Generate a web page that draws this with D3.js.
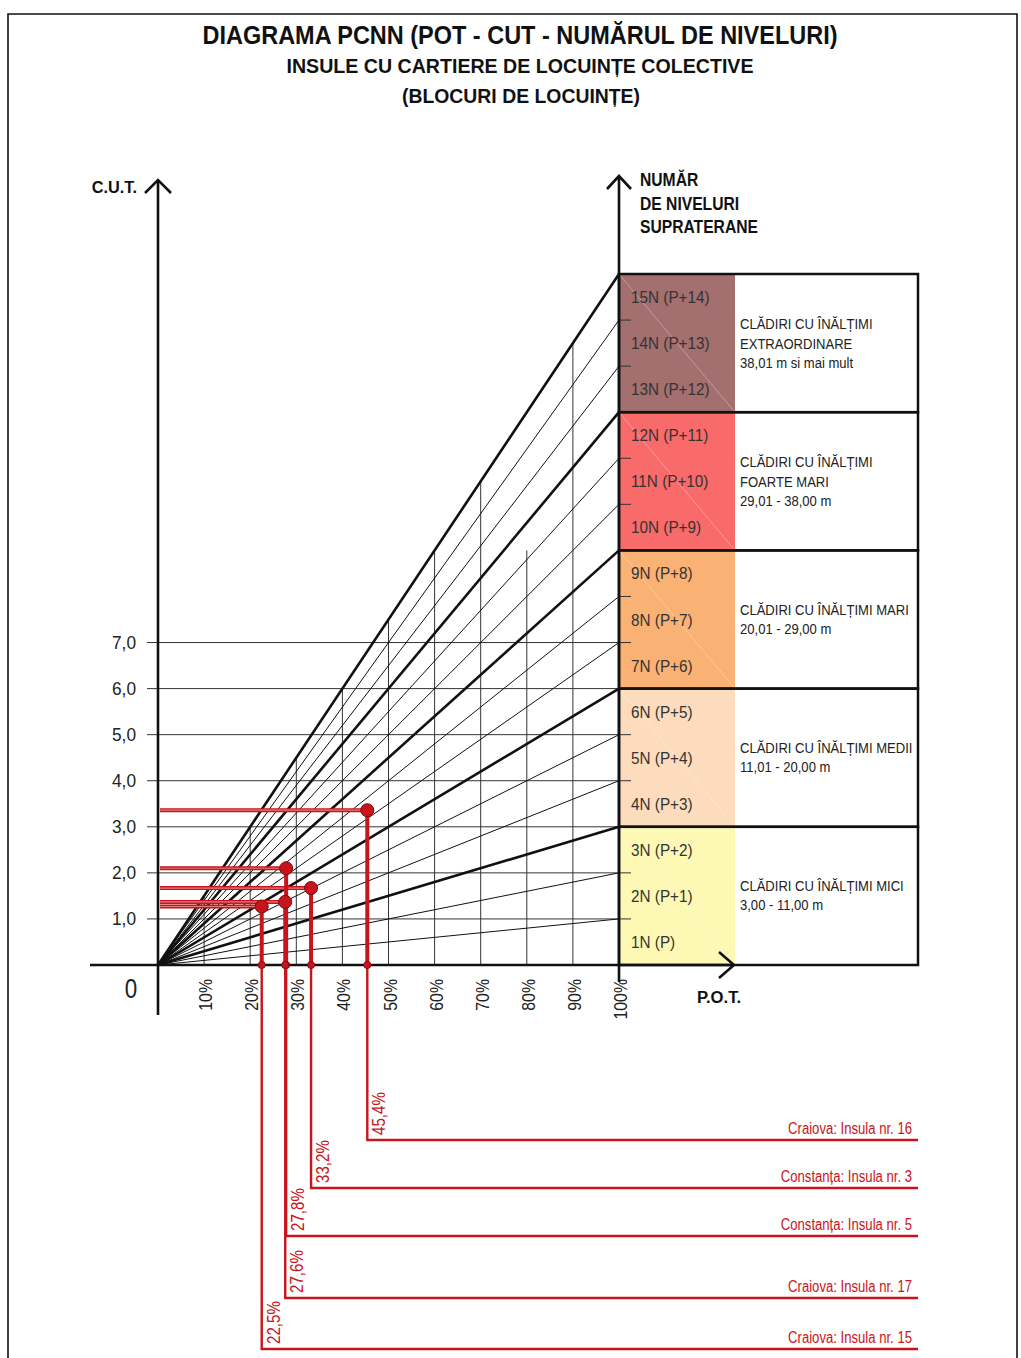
<!DOCTYPE html>
<html>
<head>
<meta charset="utf-8">
<script src="https://cdn.jsdelivr.net/npm/d3@7"></script>
<style>
  html, body { margin: 0; padding: 0; background: #fff; }
  svg { display: block; }
  text { font-family: "Liberation Sans Narrow", "Arial Narrow", "Liberation Sans", Arial, sans-serif; }
</style>
</head>
<body>
<svg id="chart" width="1021" height="1358"></svg>
<script>
// ---- data ----
const potTicks = [10, 20, 30, 40, 50, 60, 70, 80, 90, 100];
const potTickLabels = ["10%", "20%", "30%", "40%", "50%", "60%", "70%", "80%", "90%", "100%"];
// height (in C.U.T.) reached by each vertical P.O.T. guide
const potGuideTop = [1.5, 3, 4.5, 6, 7.5, 9, 10.5, 9, 13.5, 15];
const cutTicks = [1, 2, 3, 4, 5, 6, 7];
const cutTickLabels = ["1,0", "2,0", "3,0", "4,0", "5,0", "6,0", "7,0"];
const levels = [1, 2, 3, 4, 5, 6, 7, 8, 9, 10, 11, 12, 13, 14, 15];
const levelLabels = ["1N (P)", "2N (P+1)", "3N (P+2)", "4N (P+3)", "5N (P+4)", "6N (P+5)",
  "7N (P+6)", "8N (P+7)", "9N (P+8)", "10N (P+9)", "11N (P+10)", "12N (P+11)",
  "13N (P+12)", "14N (P+13)", "15N (P+14)"];
const zoneFrom = [0, 3, 6, 9, 12];
const zoneTo = [3, 6, 9, 12, 15];
const zoneColors = ["#fdf9b4", "#fcdcbc", "#f9b274", "#f96b6b", "#a46f6f"];
const zoneText = [
  ["CLĂDIRI CU ÎNĂLȚIMI MICI", "3,00 - 11,00 m"],
  ["CLĂDIRI CU ÎNĂLȚIMI MEDII", "11,01 - 20,00 m"],
  ["CLĂDIRI CU ÎNĂLȚIMI MARI", "20,01 - 29,00 m"],
  ["CLĂDIRI CU ÎNĂLȚIMI", "FOARTE MARI", "29,01 - 38,00 m"],
  ["CLĂDIRI CU ÎNĂLȚIMI", "EXTRAORDINARE", "38,01 m si mai mult"]
];
const islands = ["Craiova: Insula nr. 16", "Constanța: Insula nr. 3", "Constanța: Insula nr. 5",
  "Craiova: Insula nr. 17", "Craiova: Insula nr. 15"];
const islandPot = [45.4, 33.2, 27.8, 27.6, 22.5];
const islandCut = [3.36, 1.67, 2.10, 1.37, 1.27];
const islandPotLabels = ["45,4%", "33,2%", "27,8%", "27,6%", "22,5%"];

// ---- layout ----
const svg = d3.select("#chart");
const x = d3.scaleLinear().domain([0, 100]).range([158, 619]);
const y = d3.scaleLinear().domain([0, 15]).range([965, 274]);
const boxRight = 918, bandRight = 735;
const leaderY = [1140, 1188, 1236, 1298, 1349];
const red = "#c8141c";
const ink = "#111";

// condensed text: drawn at the anchor point and squeezed horizontally
function label(parent, px, py, str, o) {
  const t = parent.append("text")
    .attr("transform", `translate(${px},${py})${o.rotate ? ` rotate(${o.rotate})` : ""} scale(${o.sx || 1},1)`)
    .attr("font-size", o.size)
    .attr("fill", o.fill || "#222")
    .attr("text-anchor", o.anchor || "start")
    .text(str);
  if (o.bold) t.attr("font-weight", "bold");
  return t;
}

// page frame
svg.append("path")
  .attr("d", "M8,1358 V14 H1017 V1358")
  .attr("fill", "none").attr("stroke", ink).attr("stroke-width", 1.6);

// titles
const titles = svg.append("g").attr("text-anchor", "middle").attr("font-weight", "bold").attr("fill", ink);
titles.append("text").attr("x", 520).attr("y", 44).attr("font-size", 25)
  .attr("textLength", 635).attr("lengthAdjust", "spacingAndGlyphs")
  .text("DIAGRAMA PCNN (POT - CUT - NUMĂRUL DE NIVELURI)");
titles.append("text").attr("x", 520).attr("y", 73).attr("font-size", 20)
  .attr("textLength", 467).attr("lengthAdjust", "spacingAndGlyphs")
  .text("INSULE CU CARTIERE DE LOCUINȚE COLECTIVE");
titles.append("text").attr("x", 521).attr("y", 103).attr("font-size", 20)
  .attr("textLength", 238).attr("lengthAdjust", "spacingAndGlyphs")
  .text("(BLOCURI DE LOCUINȚE)");

// coloured level bands and the zone frames
const zones = svg.append("g");
zoneFrom.forEach((f, i) => {
  zones.append("rect")
    .attr("x", x(100)).attr("y", y(zoneTo[i]))
    .attr("width", bandRight - x(100)).attr("height", y(f) - y(zoneTo[i]))
    .attr("fill", zoneColors[i]);
  zones.append("line")
    .attr("x1", x(100)).attr("y1", y(zoneTo[i]))
    .attr("x2", bandRight).attr("y2", y(f))
    .attr("stroke", "#fff").attr("stroke-opacity", 0.3).attr("stroke-width", 1);
});
const frames = svg.append("g");
zoneFrom.forEach((f, i) => {
  frames.append("rect")
    .attr("x", x(100)).attr("y", y(zoneTo[i]))
    .attr("width", boxRight - x(100)).attr("height", y(f) - y(zoneTo[i]))
    .attr("fill", "none").attr("stroke", ink).attr("stroke-width", 2.5);
  const lines = zoneText[i];
  const mid = (y(f) + y(zoneTo[i])) / 2;
  const first = lines.length === 3 ? mid - 14 : mid - 5;
  lines.forEach((s, k) => {
    label(frames, 740, first + k * 19.5, s, { size: 15, sx: 0.87, fill: "#222" });
  });
});

// level labels and level ticks on the right axis
levels.forEach((n, i) => {
  label(svg, 631, (y(n) + y(n - 1)) / 2 + 6, levelLabels[i], { size: 17, sx: 0.9, fill: "#333" });
  if (n % 3 !== 0) {
    svg.append("line")
      .attr("x1", x(100)).attr("x2", x(100) + 12)
      .attr("y1", y(n)).attr("y2", y(n))
      .attr("stroke", "#333").attr("stroke-width", 1);
  }
});

// horizontal C.U.T. guides
const grid = svg.append("g").attr("stroke", "#333").attr("stroke-width", 1);
cutTicks.forEach(c => {
  grid.append("line").attr("x1", 147).attr("x2", x(100)).attr("y1", y(c)).attr("y2", y(c));
});
// vertical P.O.T. guides
potTicks.slice(0, 9).forEach((p, i) => {
  grid.append("line").attr("x1", x(p)).attr("x2", x(p)).attr("y1", y(0)).attr("y2", y(potGuideTop[i]));
});

// rays: C.U.T. = P.O.T. x number of levels
levels.forEach(n => {
  svg.append("line")
    .attr("x1", x(0)).attr("y1", y(0))
    .attr("x2", x(100)).attr("y2", y(n))
    .attr("stroke", ink)
    .attr("stroke-width", n % 3 === 0 ? 2.6 : 1);
});

// axes
const axes = svg.append("g").attr("stroke", ink).attr("fill", "none").attr("stroke-width", 2.6);
axes.append("line").attr("x1", x(0)).attr("x2", x(0)).attr("y1", 181).attr("y2", 1015);
axes.append("path").attr("d", `M${x(0) - 13},193 L${x(0)},180 L${x(0) + 13},193`);
axes.append("line").attr("x1", x(100)).attr("x2", x(100)).attr("y1", 176).attr("y2", 982);
axes.append("path").attr("d", `M${x(100) - 12},189 L${x(100)},176 L${x(100) + 12},189`);
axes.append("line").attr("x1", 90).attr("x2", 734).attr("y1", y(0)).attr("y2", y(0));
axes.append("path").attr("d", `M719,952 L734,965 L719,978`);

// axis titles
label(svg, 137, 193, "C.U.T.", { size: 17, sx: 0.96, bold: true, fill: ink, anchor: "end" });
label(svg, 697, 1003, "P.O.T.", { size: 17, sx: 0.98, bold: true, fill: ink });
["NUMĂR", "DE NIVELURI", "SUPRATERANE"].forEach((s, k) => {
  label(svg, 640, 186 + k * 23.5, s, { size: 18, sx: 0.87, bold: true, fill: ink });
});

// tick labels
cutTicks.forEach((c, i) => {
  label(svg, 136, y(c) + 6, cutTickLabels[i], { size: 18, sx: 0.96, anchor: "end" });
});
label(svg, 131, 998, "0", { size: 27, sx: 0.83, anchor: "middle" });
potTicks.forEach((p, i) => {
  label(svg, x(p) + 8, 979, potTickLabels[i], { size: 18, sx: 0.88, anchor: "end", rotate: -90 });
});

// island readings
const marks = svg.append("g");
islandPot.forEach((p, i) => {
  const px = x(p), py = y(islandCut[i]);
  // C.U.T. reading across to the vertical axis
  marks.append("line").attr("x1", 160).attr("x2", px).attr("y1", py).attr("y2", py)
    .attr("stroke", red).attr("stroke-width", 4);
  marks.append("line").attr("x1", 160).attr("x2", px).attr("y1", py).attr("y2", py)
    .attr("stroke", "#e77a7a").attr("stroke-width", 1.2);
});
islandPot.forEach((p, i) => {
  const px = x(p), py = y(islandCut[i]);
  marks.append("line").attr("x1", px).attr("x2", px).attr("y1", py).attr("y2", y(0))
    .attr("stroke", red).attr("stroke-width", 4);
  // leader down to the island name
  marks.append("path")
    .attr("d", `M${px},${y(0)} V${leaderY[i]} H${boxRight}`)
    .attr("fill", "none").attr("stroke", red).attr("stroke-width", 2.4);
});
islandPot.forEach((p, i) => {
  const px = x(p), py = y(islandCut[i]);
  marks.append("circle").attr("cx", px).attr("cy", py).attr("r", 6.5)
    .attr("fill", red).attr("stroke", "#7a0a0a").attr("stroke-width", 1);
  marks.append("circle").attr("cx", px).attr("cy", y(0)).attr("r", 3.6)
    .attr("fill", red).attr("stroke", "#7a0a0a").attr("stroke-width", 0.8);
  label(marks, px + 18, leaderY[i] - 5, islandPotLabels[i], { size: 18, sx: 0.84, fill: red, rotate: -90 });
  label(marks, 912, leaderY[i] - 6, islands[i], { size: 16, sx: 0.82, fill: red, anchor: "end" });
});
</script>
</body>
</html>
